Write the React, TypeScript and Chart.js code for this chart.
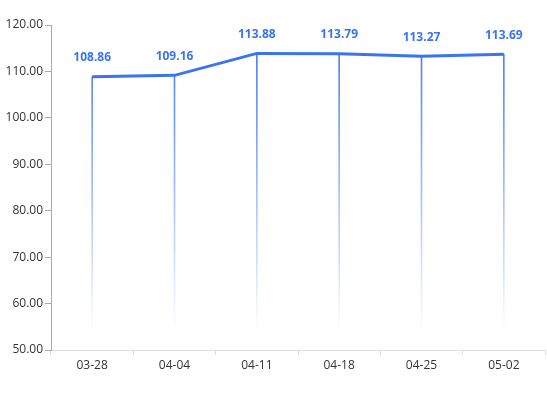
import React, { useEffect, useRef } from "react";
import { Chart, registerables } from "chart.js";

Chart.register(...registerables);

const categories = ["03-28", "04-04", "04-11", "04-18", "04-25", "05-02"];
const values = [108.86, 109.16, 113.88, 113.79, 113.27, 113.69];
const yMin = 50;
const yMax = 120;
const yStep = 10;

const BLUE = "#3a74f0";

const labelPlugin = {
  id: "valueLabels",
  afterDatasetsDraw(chart: any) {
    const meta = chart.getDatasetMeta(1);
    const ctx = chart.ctx;
    ctx.save();
    ctx.font = "bold 12px 'Open Sans', 'Noto Sans', sans-serif";
    ctx.fillStyle = BLUE;
    ctx.textAlign = "center";
    ctx.textBaseline = "middle";
    meta.data.forEach((el: any, i: number) => {
      ctx.fillText(values[i].toFixed(2), el.x, el.y - 19);
    });
    ctx.restore();
  },
};

export default function App() {
  const ref = useRef<HTMLCanvasElement>(null);
  useEffect(() => {
    if (!ref.current) return;
    const chart = new Chart(ref.current, {
      type: "bar",
      data: {
        labels: categories,
        datasets: [
          {
            type: "bar",
            data: values.map((v) => [yMin, v]) as any,
            barThickness: 1,
            backgroundColor: (c: any) => {
              const chartRef = c.chart;
              const area = chartRef.chartArea;
              if (!area) return BLUE;
              const g = chartRef.ctx.createLinearGradient(0, area.top, 0, area.bottom - 18);
              g.addColorStop(0, "rgba(58,116,240,1)");
              g.addColorStop(1, "rgba(58,116,240,0)");
              return g;
            },
            borderWidth: 0,
            order: 2,
          },
          {
            type: "line",
            data: values,
            borderColor: BLUE,
            borderWidth: 3,
            pointRadius: 0,
            tension: 0,
            fill: false,
            order: 1,
          },
        ],
      },
      options: {
        animation: false,
        responsive: false,
        layout: { padding: { top: 25, right: 2, left: 0, bottom: 0 } },
        plugins: {
          legend: { display: false },
          tooltip: { enabled: false },
        },
        scales: {
          x: {
            offset: true,
            grid: {
              display: true,
              drawOnChartArea: false,
              offset: true,
              tickLength: 5,
              color: "#dddddd",
            },
            border: { color: "#dddddd" },
            ticks: {
              color: "#333333",
              font: { size: 12, family: "'Open Sans', 'Noto Sans', sans-serif" },
              padding: 3,
              maxRotation: 0,
            },
            afterFit: (s: any) => {
              s.height = 44;
            },
          },
          y: {
            min: yMin,
            max: yMax,
            grid: {
              display: true,
              drawOnChartArea: false,
              tickLength: 6,
              color: "#aaaaaa",
            },
            border: { color: "#aaaaaa" },
            ticks: {
              stepSize: yStep,
              color: "#333333",
              font: { size: 12, family: "'Open Sans', 'Noto Sans', sans-serif" },
              padding: 2,
              callback: (v: any) => Number(v).toFixed(2),
            },
            afterFit: (s: any) => {
              s.width = 51;
            },
          },
        },
      },
      plugins: [labelPlugin],
    });
    return () => chart.destroy();
  }, []);
  return (
    <div style={{ position: "absolute", left: 0, top: 0, width: 547, height: 394 }}>
      <canvas ref={ref} width={547} height={394} style={{ width: 547, height: 394 }} />
    </div>
  );
}
